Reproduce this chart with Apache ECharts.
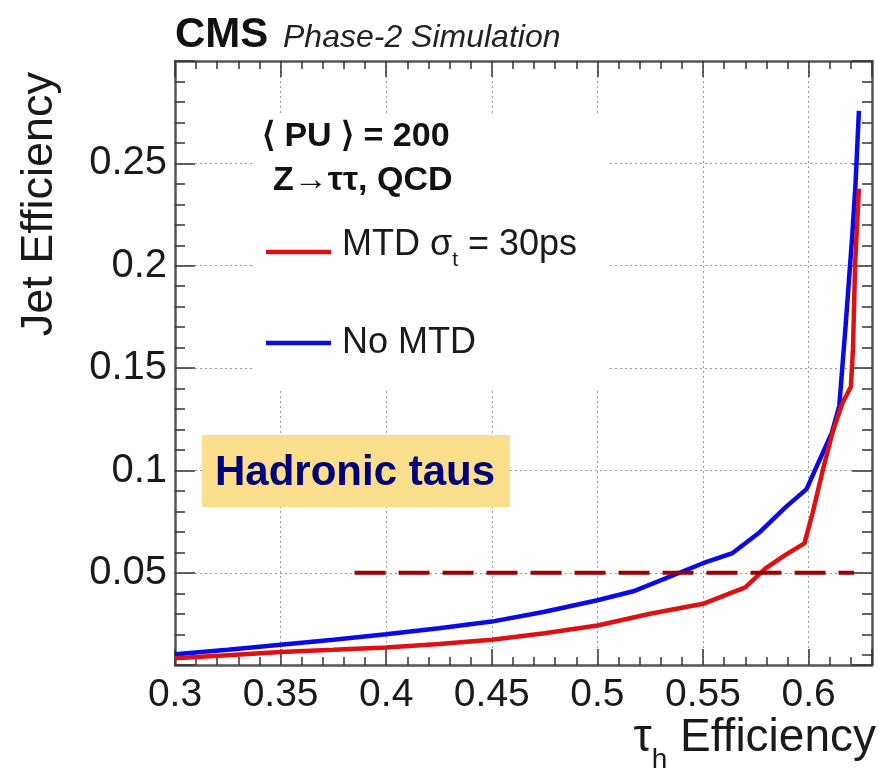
<!DOCTYPE html>
<html>
<head>
<meta charset="utf-8">
<script src="https://cdn.jsdelivr.net/npm/echarts@6/dist/echarts.min.js"></script>
<style>
  html, body { margin: 0; padding: 0; background: #fff; }
  #chart { width: 879px; height: 769px; }
</style>
</head>
<body>
<div id="chart"></div>
<script>
// tau_h efficiency vs jet (fake) efficiency
const noMtdX  = [0.300, 0.325, 0.350, 0.375, 0.400, 0.425, 0.450, 0.475, 0.500, 0.517, 0.550, 0.564, 0.577, 0.589, 0.599, 0.611, 0.6145, 0.6175, 0.6207, 0.6222, 0.6238];
const noMtdY  = [0.0103, 0.0125, 0.0149, 0.0173, 0.0200, 0.0230, 0.0262, 0.0310, 0.0366, 0.0410, 0.0547, 0.0597, 0.0700, 0.0820, 0.0909, 0.1185, 0.1315, 0.1707, 0.2155, 0.2400, 0.2756];
const mtdX    = [0.300, 0.325, 0.350, 0.375, 0.400, 0.425, 0.450, 0.475, 0.500, 0.525, 0.550, 0.570, 0.5796, 0.589, 0.598, 0.6019, 0.6066, 0.6113, 0.616, 0.620, 0.621, 0.622, 0.6238];
const mtdY    = [0.0083, 0.0098, 0.0113, 0.0124, 0.0136, 0.0152, 0.0173, 0.0205, 0.0243, 0.0300, 0.0349, 0.0429, 0.0522, 0.0588, 0.0644, 0.0793, 0.0998, 0.1185, 0.1330, 0.1409, 0.1595, 0.2005, 0.2377];
const refLineX = [0.385, 0.6215];
const refLineY = [0.05, 0.05];

const xRange = [0.3, 0.63];
const yRange = [0.005, 0.3];
const majorStep = 0.05;

const FONT = 'Liberation Sans, Arial, Helvetica, sans-serif';

function pairs(xs, ys) {
  return xs.map((x, i) => [x, ys[i]]);
}

// only label the round 0.05 steps, not the upper range end
function makeLabel(range) {
  return function (v) {
    if (v > range[1] - 1e-9) return '';
    const k = v / majorStep;
    if (Math.abs(k - Math.round(k)) > 1e-6) return '';
    return String(+v.toFixed(2));
  };
}

const chart = echarts.init(document.getElementById('chart'));

const axisLine = { show: true, lineStyle: { color: '#555', width: 2.5 } };
const grid = { show: true, type: [2, 3], color: '#9a9a9a', width: 1 };

const option = {
  animation: false,
  backgroundColor: '#fff',
  grid: { left: 175, right: 7, top: 61, bottom: 104, containLabel: false },
  xAxis: [
    {
      type: 'value', min: xRange[0], max: xRange[1], interval: majorStep,
      axisLine: axisLine,
      axisTick: { inside: true, length: 16, lineStyle: { color: '#333', width: 1.5 } },
      minorTick: { show: true, splitNumber: 5, length: 8, lineStyle: { color: '#333', width: 1.5 } },
      splitLine: { show: true, lineStyle: grid },
      axisLabel: { formatter: makeLabel(xRange), fontFamily: FONT, fontSize: 39, color: '#1a1a1a', margin: 11 }
    },
    {
      type: 'value', position: 'top', min: xRange[0], max: xRange[1], interval: majorStep,
      axisLine: axisLine,
      axisTick: { inside: true, length: 16, lineStyle: { color: '#333', width: 1.5 } },
      minorTick: { show: true, splitNumber: 5, length: 8, lineStyle: { color: '#333', width: 1.5 } },
      splitLine: { show: false },
      axisLabel: { show: false }
    }
  ],
  yAxis: [
    {
      type: 'value', min: yRange[0], max: yRange[1],
      axisLine: axisLine,
      axisTick: { inside: true, length: 20, lineStyle: { color: '#333', width: 1.5 } },
      minorTick: { show: true, splitNumber: 5, length: 10, lineStyle: { color: '#333', width: 1.5 } },
      splitLine: { show: true, lineStyle: grid },
      axisLabel: { formatter: makeLabel(yRange), fontFamily: FONT, fontSize: 40, color: '#1a1a1a', margin: 8 }
    },
    {
      type: 'value', position: 'right', min: yRange[0], max: yRange[1],
      axisLine: axisLine,
      axisTick: { inside: true, length: 20, lineStyle: { color: '#333', width: 1.5 } },
      minorTick: { show: true, splitNumber: 5, length: 10, lineStyle: { color: '#333', width: 1.5 } },
      splitLine: { show: false },
      axisLabel: { show: false }
    }
  ],
  series: [
    {
      name: 'No MTD', type: 'line', data: pairs(noMtdX, noMtdY),
      showSymbol: false, z: 3,
      lineStyle: { color: '#0a0ae6', width: 4.5 }
    },
    {
      name: 'MTD', type: 'line', data: pairs(mtdX, mtdY),
      showSymbol: false, z: 3,
      lineStyle: { color: '#dd1111', width: 4.5 }
    },
    {
      name: 'ref', type: 'line', data: pairs(refLineX, refLineY),
      showSymbol: false, z: 4,
      lineStyle: { color: '#990000', width: 4, type: [31, 13] }
    }
  ],
  graphic: [
    // legend box (white, hides the grid)
    { type: 'rect', z: 1, shape: { x: 253, y: 113, width: 357, height: 275 }, style: { fill: '#fff' } },
    { type: 'text', z: 5, x: 175, y: 35, style: { text: 'CMS', font: 'bold 42px ' + FONT, fill: '#111', verticalAlign: 'middle' } },
    { type: 'text', z: 5, x: 283, y: 38, style: { text: 'Phase-2 Simulation', font: 'italic 32px ' + FONT, fill: '#222', verticalAlign: 'middle' } },
    { type: 'text', z: 5, x: 262, y: 137, style: { text: '⟨ PU ⟩ = 200', font: 'bold 34px ' + FONT, fill: '#111', verticalAlign: 'middle' } },
    { type: 'text', z: 5, x: 273, y: 181, style: { text: 'Z→ττ, QCD', font: 'bold 34px ' + FONT, fill: '#111', verticalAlign: 'middle' } },
    { type: 'line', z: 5, shape: { x1: 266, y1: 252, x2: 331, y2: 252 }, style: { stroke: '#dd1111', lineWidth: 4.5 } },
    { type: 'line', z: 5, shape: { x1: 266, y1: 343, x2: 331, y2: 343 }, style: { stroke: '#0a0ae6', lineWidth: 4.5 } },
    {
      type: 'text', z: 5, x: 342, y: 227,
      style: {
        text: '{a|MTD σ}{b|t}{a| = 30ps}', verticalAlign: 'top', fill: '#1a1a1a',
        rich: {
          a: { fontFamily: FONT, fontSize: 36, lineHeight: 36, verticalAlign: 'top', fill: '#1a1a1a' },
          b: { fontFamily: FONT, fontSize: 21, lineHeight: 21, padding: [23, 0, 0, 0], verticalAlign: 'top', fill: '#1a1a1a' }
        }
      }
    },
    { type: 'text', z: 5, x: 342, y: 343, style: { text: 'No MTD', font: '36px ' + FONT, fill: '#1a1a1a', verticalAlign: 'middle' } },
    // label box
    { type: 'rect', z: 5, shape: { x: 202, y: 435, width: 308, height: 72 }, style: { fill: '#fbdf8c' } },
    { type: 'text', z: 6, x: 215, y: 473, style: { text: 'Hadronic taus', font: 'bold 42px ' + FONT, fill: '#00007a', verticalAlign: 'middle' } },
    // axis titles
    { type: 'text', z: 5, x: 40, y: 72, rotation: Math.PI / 2, style: { text: 'Jet Efficiency', font: '45px ' + FONT, fill: '#1a1a1a', align: 'right', verticalAlign: 'middle' } },
    {
      type: 'text', z: 5, x: 876, y: 715,
      style: {
        text: '{t|τ}{h|h}{t| Efficiency}', align: 'right', verticalAlign: 'top', fill: '#1a1a1a',
        rich: {
          t: { fontFamily: FONT, fontSize: 46, lineHeight: 46, verticalAlign: 'top', fill: '#1a1a1a' },
          h: { fontFamily: FONT, fontSize: 28, lineHeight: 28, padding: [31, 0, 0, 0], verticalAlign: 'top', fill: '#1a1a1a' }
        }
      }
    }
  ]
};

chart.setOption(option);
window.onresize = function () {
  chart.resize();
};
</script>
</body>
</html>
